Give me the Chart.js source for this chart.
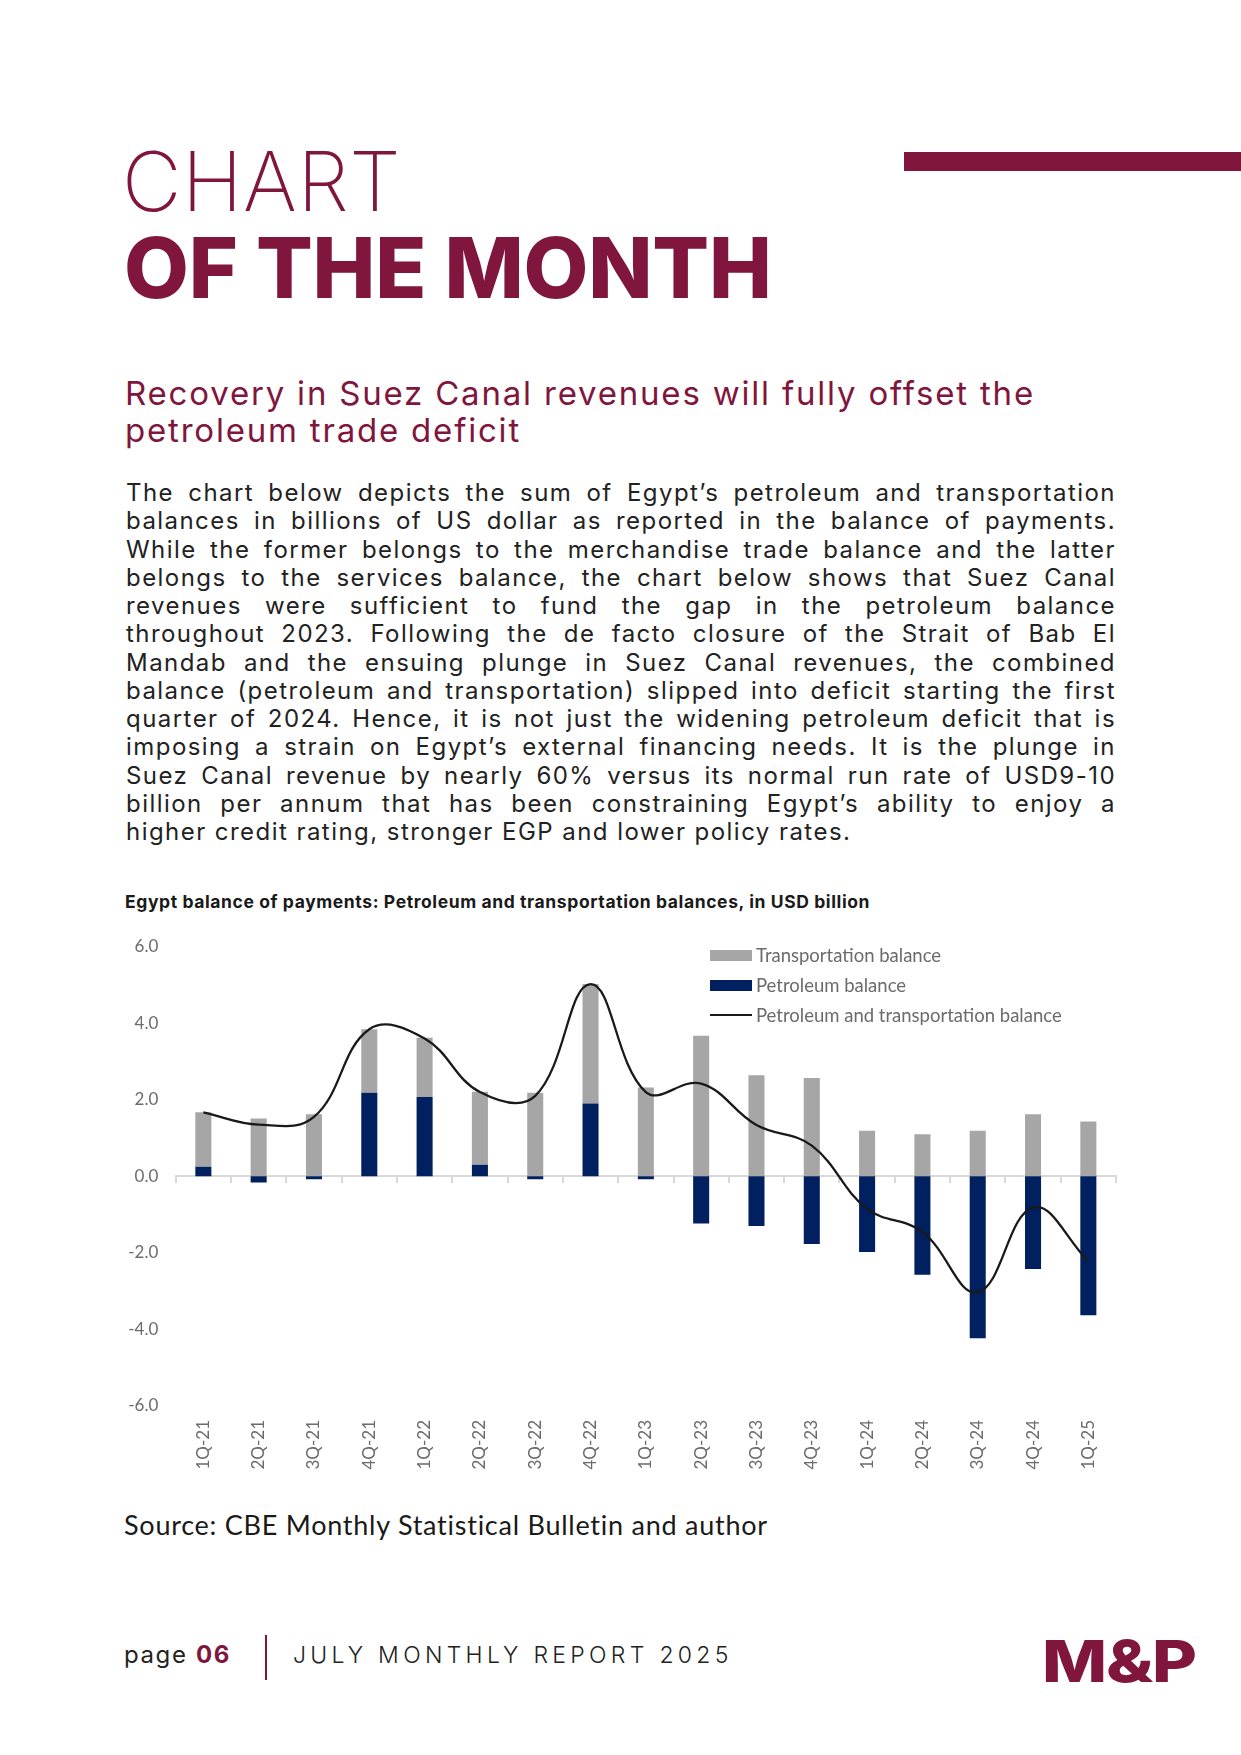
<!DOCTYPE html>
<html>
<head>
<meta charset="utf-8">
<script src="https://cdn.jsdelivr.net/npm/chart.js@4.4.1/dist/chart.umd.min.js"></script>
<style>
  html, body { margin: 0; padding: 0; background: #fff; }
  body { width: 1241px; height: 1755px; position: relative; overflow: hidden; font-family: Inter, "Noto Sans", sans-serif; }
  .abs { position: absolute; white-space: nowrap; }
  .maroon { color: #80163d; }
  #t1 { left: 122px; top: 141px; font-size: 82px; line-height: 82px; font-weight: 250; letter-spacing: 0.6px; }
  #t2 { left: 124px; top: 226px; font-size: 84px; line-height: 84px; font-weight: 800; letter-spacing: -0.2px; }
  #bar { left: 904px; top: 152px; width: 337px; height: 19px; background: #80163d; }
  #sub { left: 125px; top: 375px; font-size: 33px; line-height: 37px; font-weight: 400; letter-spacing: 1.8px; }
  #body { left: 126px; top: 479px; width: 990px; font-size: 24px; line-height: 28.25px; color: #222; letter-spacing: 1.45px; }
  #body span { display: block; text-align: justify; text-align-last: justify; white-space: nowrap; }
  #body span.last { text-align-last: left; }
  #ctitle { left: 125px; top: 893px; font-size: 17.5px; line-height: 17px; font-weight: 700; color: #1a1a1a; letter-spacing: 0.6px; }
  #chartBox { position: absolute; left: 100px; top: 919px; width: 1030px; height: 560px; }
  #legend { position: absolute; left: 710px; top: 940px; font-family: Lato, sans-serif; font-size: 18.5px; color: #6b6b6b; }
  #legend div { height: 30px; display: flex; align-items: center; }
  #legend i { display: inline-block; width: 42px; margin-right: 4px; }
  #source { left: 124px; top: 1509px; font-family: Lato, sans-serif; font-size: 27px; line-height: 32px; color: #1a1a1a; letter-spacing: 0.75px; }
  #page { left: 124px; top: 1641px; font-size: 24px; line-height: 28px; color: #222; letter-spacing: 1.6px; }
  #sep { left: 265px; top: 1635px; width: 2px; height: 45px; background: #80163d; }
  #report { left: 293px; top: 1641px; font-size: 23px; line-height: 28px; font-weight: 300; letter-spacing: 4.3px; color: #222; }
  #logo { left: 1042px; top: 1632px; font-size: 58px; line-height: 58px; font-weight: 800; letter-spacing: -1px; transform: scaleX(1.19); transform-origin: left top; }
</style>
</head>
<body>
<div id="t1" class="abs maroon">CHART</div>
<div id="t2" class="abs maroon">OF THE MONTH</div>
<div id="bar" class="abs"></div>
<div id="sub" class="abs maroon">Recovery in Suez Canal revenues will fully offset the<br>petroleum trade deficit</div>
<div id="body" class="abs">
  <span>The chart below depicts the sum of Egypt’s petroleum and transportation</span>
  <span>balances in billions of US dollar as reported in the balance of payments.</span>
  <span>While the former belongs to the merchandise trade balance and the latter</span>
  <span>belongs to the services balance, the chart below shows that Suez Canal</span>
  <span>revenues were sufficient to fund the gap in the petroleum balance</span>
  <span>throughout 2023. Following the de facto closure of the Strait of Bab El</span>
  <span>Mandab and the ensuing plunge in Suez Canal revenues, the combined</span>
  <span>balance (petroleum and transportation) slipped into deficit starting the first</span>
  <span>quarter of 2024. Hence, it is not just the widening petroleum deficit that is</span>
  <span>imposing a strain on Egypt’s external financing needs. It is the plunge in</span>
  <span>Suez Canal revenue by nearly 60% versus its normal run rate of USD9-10</span>
  <span>billion per annum that has been constraining Egypt’s ability to enjoy a</span>
  <span class="last">higher credit rating, stronger EGP and lower policy rates.</span>
</div>
<div id="ctitle" class="abs">Egypt balance of payments: Petroleum and transportation balances, in USD billion</div>
<div id="chartBox"><canvas id="balanceChart"></canvas></div>
<div id="legend"></div>
<div id="source" class="abs">Source: CBE Monthly Statistical Bulletin and author</div>
<div id="page" class="abs">page <b class="maroon">06</b></div>
<div id="sep" class="abs"></div>
<div id="report" class="abs">JULY MONTHLY REPORT 2025</div>
<div id="logo" class="abs maroon">M&amp;P</div>

<script>
const quarters = ['1Q-21', '2Q-21', '3Q-21', '4Q-21', '1Q-22', '2Q-22', '3Q-22', '4Q-22', '1Q-23',
  '2Q-23', '3Q-23', '4Q-23', '1Q-24', '2Q-24', '3Q-24', '4Q-24', '1Q-25'];
const transportation = [1.42, 1.51, 1.62, 1.66, 1.55, 1.91, 2.18, 3.12, 2.32,
  3.67, 2.64, 2.57, 1.19, 1.10, 1.19, 1.62, 1.43];
const petroleum = [0.25, -0.16, -0.08, 2.18, 2.07, 0.30, -0.08, 1.90, -0.08,
  -1.23, -1.30, -1.77, -1.98, -2.57, -4.23, -2.42, -3.63];
const combined = [1.67, 1.35, 1.55, 3.84, 3.60, 2.20, 2.10, 5.02, 2.20,
  2.42, 1.34, 0.80, -0.85, -1.45, -3.03, -0.81, -2.22];
const yTicks = [-6, -4, -2, 0, 2, 4, 6];

const GREY = '#a6a6a6';
const NAVY = '#002060';
const tickFont = { family: 'Lato', size: 17 };

const ctx = document.getElementById('balanceChart').getContext('2d');
const chart = new Chart(ctx, {
  type: 'bar',
  data: {
    labels: quarters,
    datasets: [
      { label: 'Petroleum balance', data: petroleum, backgroundColor: NAVY, stack: 'bal', order: 1,
        barPercentage: 0.29, categoryPercentage: 1 },
      { label: 'Transportation balance', data: transportation, backgroundColor: GREY, stack: 'bal', order: 1,
        barPercentage: 0.29, categoryPercentage: 1 },
      { type: 'line', label: 'Petroleum and transportation balance', data: combined, stack: 'line', order: 0,
        borderColor: '#1a1a1a', borderWidth: 2.3, pointRadius: 0, tension: 0.4, fill: false }
    ]
  },
  options: {
    responsive: true,
    maintainAspectRatio: false,
    animation: false,
    layout: { padding: { top: 16.7, right: 14, left: 0, bottom: 0 } },
    plugins: { legend: { display: false }, tooltip: { enabled: false } },
    scales: {
      x: {
        stacked: true,
        grid: { display: false, drawTicks: false },
        border: { display: false },
        ticks: { color: '#6b6b6b', font: tickFont, minRotation: 90, maxRotation: 90, padding: 14, autoSkip: false },
        afterFit: (s) => { s.height = 73; }
      },
      x2: {
        type: 'category',
        position: { y: 0 },
        offset: true,
        grid: { offset: true, drawOnChartArea: false, drawTicks: true, tickLength: 6, color: '#d9d9d9', lineWidth: 2 },
        border: { display: true, color: '#d9d9d9', width: 2 },
        ticks: { display: false },
        afterFit: (s) => { s.height = 0; }
      },
      y: {
        stacked: true,
        min: -6,
        max: 6,
        afterBuildTicks: (s) => { s.ticks = yTicks.map(v => ({ value: v })); },
        grid: { display: false, drawTicks: false },
        border: { display: false },
        ticks: { color: '#6b6b6b', font: tickFont, padding: 17.4, callback: (v) => Number(v).toFixed(1) },
        afterFit: (s) => { s.width = 75.7; }
      }
    }
  }
});

// legend in the same order as the reference
const legend = document.getElementById('legend');
[1, 0, 2].forEach(i => {
  const ds = chart.data.datasets[i];
  const row = document.createElement('div');
  const sw = document.createElement('i');
  if (ds.type === 'line') {
    sw.style.height = '2px';
    sw.style.background = ds.borderColor;
  } else {
    sw.style.height = '11px';
    sw.style.background = ds.backgroundColor;
  }
  row.appendChild(sw);
  row.appendChild(document.createTextNode(ds.label));
  legend.appendChild(row);
});
</script>
</body>
</html>
